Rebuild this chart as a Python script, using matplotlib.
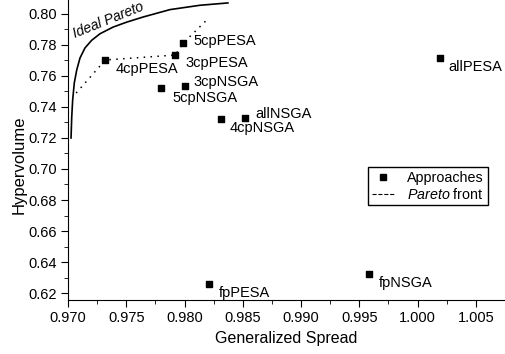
import matplotlib.pyplot as plt
from matplotlib.lines import Line2D
from matplotlib.ticker import MultipleLocator

plt.rcParams['font.family'] = ['Liberation Sans', 'DejaVu Sans']
plt.rcParams['mathtext.fontset'] = 'custom'
plt.rcParams['mathtext.rm'] = 'Liberation Sans'
plt.rcParams['mathtext.it'] = 'Liberation Sans:italic'

# approaches: generalized spread vs hypervolume
names = ['4cpPESA', '3cpPESA', '5cpPESA', '5cpNSGA', '3cpNSGA',
         '4cpNSGA', 'allNSGA', 'allPESA', 'fpPESA', 'fpNSGA']
spread = [0.9732, 0.9792, 0.9799, 0.9780, 0.9800,
          0.9831, 0.9852, 1.0019, 0.9821, 0.9958]
hypervol = [0.7703, 0.7735, 0.7813, 0.7523, 0.7535,
            0.7323, 0.7329, 0.7716, 0.6258, 0.6323]

# pareto front (dotted)
front_x = [0.9707, 0.9732, 0.9792, 0.9799, 0.9820]
front_y = [0.7490, 0.7703, 0.7735, 0.7813, 0.7968]

# ideal pareto curve
ideal_x = [0.97026, 0.97032, 0.97040, 0.97054, 0.97075, 0.97103, 0.97146,
           0.97203, 0.97274, 0.97386, 0.97503, 0.97643, 0.97875, 0.98132, 0.98372]
ideal_y = [0.7200, 0.7335, 0.7445, 0.7555, 0.7639, 0.7716, 0.7781,
           0.7830, 0.7872, 0.7915, 0.7947, 0.7980, 0.8028, 0.8056, 0.8071]

# label offsets in pixels (dx, dy)
offsets = [(10, -9), (10, -8), (10, 2), (11, -10), (9, 4),
           (9, -9), (10, 4), (9, -9), (10, -9), (10, -9)]

fig = plt.figure(figsize=(5.05, 3.54), dpi=100)
ax = fig.add_axes([68 / 505, 54 / 354, 437 / 505, 300 / 354])

ax.plot(ideal_x, ideal_y, color='black', linewidth=1.2)
ax.plot(front_x, front_y, color='black', linestyle=(0, (1, 3.5)), linewidth=1.1)
ax.scatter(spread, hypervol, marker='s', s=24, color='black', zorder=3)

for n, x, y, (dx, dy) in zip(names, spread, hypervol, offsets):
    ax.annotate(n, (x, y), xytext=(dx, dy), textcoords='offset pixels',
                fontsize=10.5, va='center', ha='left')

ax.text(0.97062, 0.7842, 'Ideal Pareto', fontsize=10, style='italic',
        rotation=22, ha='left', va='baseline', rotation_mode='anchor',
        clip_on=False)

ax.set_xlim(0.970, 1.0075)
ax.set_ylim(0.6155, 0.809)
ax.xaxis.set_major_locator(MultipleLocator(0.005))
ax.xaxis.set_minor_locator(MultipleLocator(0.0025))
ax.yaxis.set_major_locator(MultipleLocator(0.02))
ax.yaxis.set_minor_locator(MultipleLocator(0.01))
ax.xaxis.set_major_formatter(plt.FormatStrFormatter('%.3f'))
ax.yaxis.set_major_formatter(plt.FormatStrFormatter('%.2f'))
ax.tick_params(which='major', direction='out', length=5, labelsize=10.5, pad=3)
ax.tick_params(which='minor', direction='out', length=3)

for side in ['top', 'right']:
    ax.spines[side].set_visible(False)

ax.set_xlabel('Generalized Spread', fontsize=11.5, labelpad=4)
ax.set_ylabel('Hypervolume', fontsize=12)
ax.yaxis.set_label_coords(-0.095, 0.45)

handles = [Line2D([], [], marker='s', color='black', linestyle='None', markersize=4.5),
           Line2D([], [], color='black', linestyle='--', linewidth=0.8)]
ax.legend(handles, ['Approaches', r'$\mathit{Pareto}$ front'],
          loc='upper left', bbox_to_anchor=(300 / 437, 1 - 167 / 300),
          borderaxespad=0, fontsize=10.3, frameon=True, fancybox=False,
          edgecolor='black', framealpha=1, handlelength=1.6, borderpad=0.25,
          labelspacing=0.15, handletextpad=0.9)

fig.savefig('out.png', dpi=100)
